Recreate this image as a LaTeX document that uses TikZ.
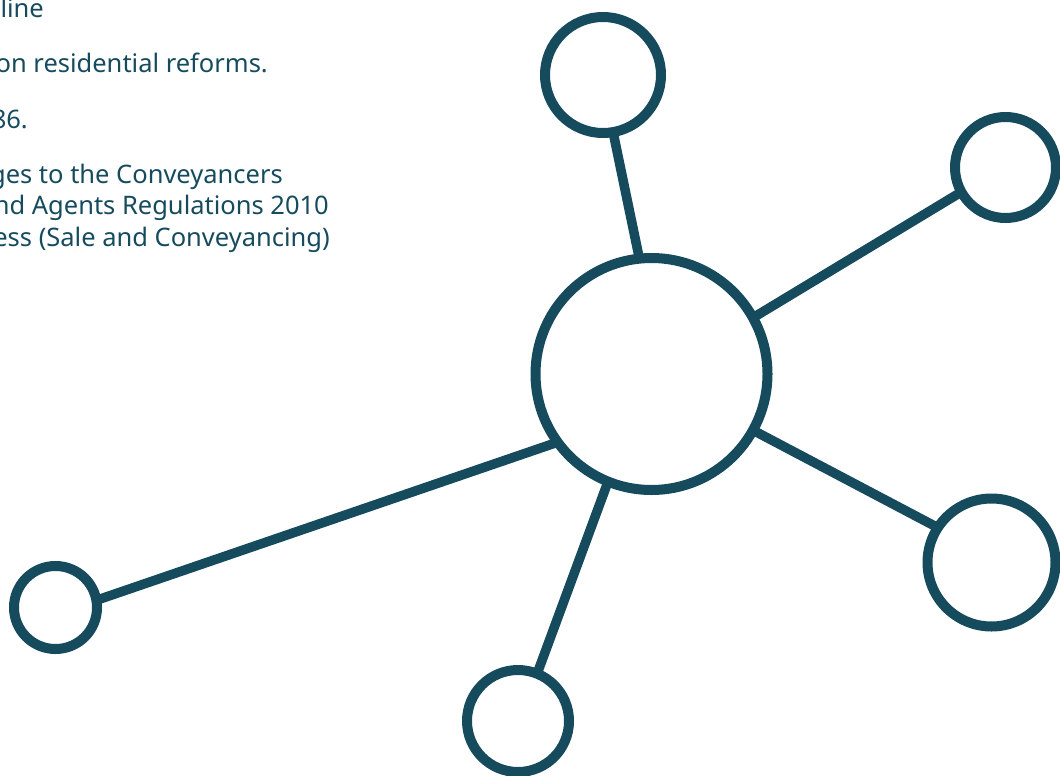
\documentclass[tikz,border=0pt]{standalone}
\usepackage{fontspec}
\setmainfont{Noto Sans}
\definecolor{hubteal}{RGB}{22,75,94}
\begin{document}
\begin{tikzpicture}[x=1pt,y=-1pt,
  hub/.style={circle,draw=hubteal,line width=10pt,inner sep=0pt,outer sep=0pt,fill=white},
  spoke/.style={draw=hubteal,line width=9.5pt},
  note/.style={anchor=base east,inner sep=0pt,text=hubteal,font=\fontsize{25.5}{31}\selectfont}]
\useasboundingbox (0,0) rectangle (1060,776);
\clip (0,0) rectangle (1060,776);

% text block running off the left edge
\node[note] (t1) at (44,18) {Online};
\node[note] (t2) at (268,73) {on residential reforms.};
\node[note] (t3) at (28,128) {1986.};
\node[note] (t4) at (283,183) {changes to the Conveyancers};
\node[note] (t5) at (329,214.5) {and Agents Regulations 2010};
\node[note] (t6) at (330,246) {Business (Sale and Conveyancing)};

% hub and satellite circles
\node[hub,minimum size=232pt] (big)  at (651.5,374) {};
\node[hub,minimum size=116pt] (top)  at (603,75) {};
\node[hub,minimum size=101pt] (rtop) at (1005.5,167.5) {};
\node[hub,minimum size=128pt] (rbot) at (991.5,562.5) {};
\node[hub,minimum size=102pt] (bot)  at (518,721) {};
\node[hub,minimum size=83pt]  (left) at (55.5,607.5) {};

% spokes
\draw[spoke] (big.96.6) -- (top.280.6);
\draw[spoke] (big.29.6) -- (rtop.209.4);
\draw[spoke] (big.-29) -- (rbot.147);
\draw[spoke] (big.248) -- (bot.68);
\draw[spoke] (big.216) -- (left.10);
\end{tikzpicture}
\end{document}
